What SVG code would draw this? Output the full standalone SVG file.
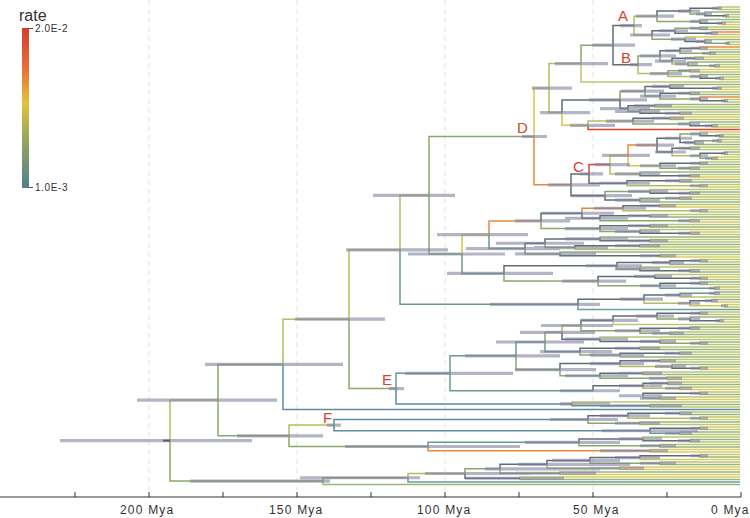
<svg xmlns="http://www.w3.org/2000/svg" width="750" height="518" viewBox="0 0 750 518">
<defs>
<linearGradient id="rg" x1="0" y1="0" x2="0" y2="1">
<stop offset="0" stop-color="#d63a2c"/><stop offset="0.25" stop-color="#e6703a"/><stop offset="0.47" stop-color="#e4c23a"/><stop offset="0.68" stop-color="#9aa85c"/><stop offset="1" stop-color="#52808d"/>
</linearGradient>
<style>
.br{fill:none;stroke-width:1.5;stroke-linecap:butt}
.c0{stroke:#5b8ca0}.c1{stroke:#679a8c}.c2{stroke:#8aa868}.c3{stroke:#b4bd5c}.c4{stroke:#d8c64a}.c5{stroke:#e8883a}.c6{stroke:#d9452f}.c7{stroke:#5f6d70}
.tA{stroke:#bcc672}.tG{stroke:#9ab47e}.tY{stroke:#d9cc64}.tO{stroke:#e98a3c}.tR{stroke:#d9452f}.tT{stroke:#6a9ea0}
.bar{fill:none;stroke:#80829e;stroke-opacity:.6;stroke-width:3.2}
.lbl{font-family:"Liberation Sans",Arial,sans-serif;font-size:15px;fill:#d5442e}
.ax{font-family:"Liberation Sans",Arial,sans-serif;font-size:12px;fill:#333;letter-spacing:1.2px}
.lg{font-family:"Liberation Sans",Arial,sans-serif;fill:#333}
</style>
</defs>
<rect width="750" height="518" fill="#ffffff"/>
<g id="grid" stroke="#e2e2e2" stroke-width="1" stroke-dasharray="5 4">
<path d="M149 0V497M297 0V497M445 0V497M593 0V497"/>
</g>
<g id="tips" class="br">
<path class="tA" d="M718 8.25V7H740M718 8.25V9.5H740M726 15.75V14.5H740M726 15.75V17H740M722 23.25V22H740M700 28.25V27H740M712 33.25V34.5H740M728 43.25V42H740M728 43.25V44.5H740M700 48.25V49.5H740M710 53.25V54.5H740M695 58.25V59.5H740M715 65.75V64.5H740M715 65.75V67H740M690 70.75V72H740M720 78.25V77H740M720 78.25V79.5H740M581 63.6V82H740M718 88.25V87H740M690 93.25V92H740M725 100.75V99.5H740M725 100.75V102H740M655 105.75V107H740M680 113.25V112H740M680 113.25V114.5H740M670 118.25V119.5H740M712 125.75V124.5H740M712 125.75V127H740M720 135.75V134.5H740M718 140.75V139.5H740M718 140.75V142H740M690 148.25V147H740M690 148.25V149.5H740M725 153.25V154.5H740M712 158.25V159.5H740M700 163.25V162H740M690 168.25V167H740M690 168.25V169.5H740M690 175.75V174.5H740M680 180.75V179.5H740M700 185.75V184.5H740M650 191.4V189.5H740M690 193.25V194.5H740M680 198.25V197H740M680 198.25V199.5H740M660 205.75V204.5H740M700 210.75V209.5H740M700 210.75V212H740M650 215.75V214.5H740M690 220.75V219.5H740M650 225.75V224.5H740M640 231.4V229.5H740M690 233.25V234.5H740M650 240.75V239.5H740M650 240.75V242H740M640 245.75V247H740M575 247.6V249.5H740M660 255.75V254.5H740M700 260.75V259.5H740M700 260.75V262H740M640 268.9V267H740M690 270.75V269.5H740M655 276.4V274.5H740M700 278.25V279.5H740M700 283.25V284.5H740M715 288.25V287H740M715 288.25V289.5H740M715 293.25V294.5H740M680 295.1V297H740M725 305.75V307H740M700 313.25V312H740M700 313.25V314.5H740M720 320.75V319.5H740M613 320.3V324.5H740M690 328.25V329.5H740M670 333.25V332H740M600 339.2V337H740M660 341.4V339.5H740M700 343.25V344.5H740M640 348.25V347H740M680 353.25V352H740M680 353.25V354.5H740M660 360.75V359.5H740M660 360.75V362H740M700 368.25V367H740M643 373.25V372H740M667 378.25V377H740M668 383.25V382H740M680 388.25V387H740M700 393.25V392H740M660 398.25V397H740M572 403.9V402H740M650 405.75V407H740M680 413.25V412H740M700 418.25V417H740M640 423.25V424.5H740M700 428.25V429.5H740M680 433.25V434.5H740M643 438.9V437H740M690 440.75V442H740M660 445.75V444.5H740M700 455.75V454.5H740M660 463.25V462H740"/>
<path class="tG" d="M705 13.9V12H740M700 21.4V19.5H740M700 28.25V29.5H740M705 41.4V39.5H740M710 53.25V52H740M688 63.9V62H740M700 76.4V74.5H740M670 86.4V84.5H740M690 93.25V94.5H740M655 105.75V104.5H740M640 111.4V109.5H740M690 123.9V122H740M720 135.75V137H740M695 142.6V144.5H740M725 153.25V152H740M700 163.25V164.5H740M640 173.9V172H740M680 180.75V182H740M690 193.25V192H740M640 200.1V202H740M650 215.75V217H740M650 225.75V227H740M600 238.9V237H740M640 245.75V244.5H740M560 253.9V252H740M670 262.6V264.5H740M690 270.75V272H740M700 283.25V282H740M715 293.25V292H740M712 300.75V299.5H740M690 318.9V317H740M690 328.25V327H740M670 333.25V334.5H740M700 343.25V342H740M640 348.25V349.5H740M620 355.1V357H740M672 366.4V364.5H740M643 373.25V374.5H740M668 383.25V384.5H740M700 393.25V394.5H740M650 405.75V404.5H740M680 413.25V414.5H740M640 423.25V422H740M680 433.25V432H740M690 440.75V439.5H740M660 445.75V447H740M700 455.75V457H740M660 463.25V464.5H740M560 473.25V472H740M520 478.25V479.5H740M323 481.1V484.5H740"/>
<path class="tY" d="M722 23.25V24.5H740M685 39.2V37H740M695 58.25V57H740M690 70.75V69.5H740M718 88.25V89.5H740M670 118.25V117H740M700 133.9V132H740M712 158.25V157H740M690 175.75V177H740M700 185.75V187H740M660 205.75V207H740M690 220.75V222H740M690 233.25V232H740M660 255.75V257H740M700 278.25V277H740M712 300.75V302H740M725 305.75V304.5H740M720 320.75V322H740M700 368.25V369.5H740M667 378.25V379.5H740M680 388.25V389.5H740M660 398.25V399.5H740M700 418.25V419.5H740M700 428.25V427H740M650 450.75V449.5H740M650 450.75V452H740M640 457.6V459.5H740M620 468.25V467H740M620 468.25V469.5H740M560 473.25V474.5H740M520 478.25V477H740"/>
<path class="tO" d="M712 33.25V32H740M700 48.25V47H740M700 98.9V97H740"/>
<path class="tR" d="M588 125.3V129.5H740"/>
<path class="tT" d="M578 304.3V309.5H740M408 477.75V482H740"/>
</g>
<g id="connectors" class="br">
<path class="c2" d="M657 16.2V21.4H700M690 11.1V13.9H705M652 35V39.2H685M675 30.75V28.25H700M705 41.4V43.25H728M638 64.7V55.9H660M660 55.9V61.1H672M680 50.75V53.25H710M688 63.9V65.75H715M668 73.6V70.75H690M581 63.6V45.2H613M620 99.9V91.2H645M645 91.2V96.1H660M660 96.1V98.9H700M628 108.6V111.4H640M633 121.1V123.9H690M680 138.25V133.9H700M695 142.6V140.75H718M700 155.75V158.25H712M660 165.75V168.25H690M605 195.7V191.4H650M640 200.1V198.25H680M429 195.3V136.5H534M429 195.3V254H462M541 220.9V228.6H600M600 218.25V220.75H690M600 228.6V231.4H640M525 248.6V253.9H560M545 243.25V247.6H575M504 273.4V281.1H598M617 265.75V268.9H640M598 281.1V285.75H660M349 319.2V388.6H396M218 400.1V364.4H283M218 400.1V435.8H289M170 440.6V481.1H323M516 355.8V369.7H560M545 342V332.3H562M581 325.5V330.75H640M657 316.1V318.9H690M640 330.75V333.25H670M660 341.4V343.25H700M580 351.7V355.1H620M560 369.7V375.75H600M600 375.75V378.25H667M643 395.75V398.25H660M289 435.8V446.5H428M588 419.5V423.25H640M579 442.3V445.75H660M323 481.1V477.75H408M465 473.5V468.8H500M500 468.8V473.25H560M590 460.4V463.25H660"/>
<path class="c3" d="M634 25.6V16.2H657M634 25.6V35H652M638 64.7V73.6H668M672 61.1V63.9H688M668 73.6V76.4H700M549 88.1V63.6H581M549 88.1V112.6H562M588 125.3V121.1H633M610 164.6V173.9H640M672 152V155.75H700M627 183.25V185.75H700M400 249.8V195.3H429M623 208.25V210.75H700M644 299.2V303.25H690M349 319.2V249.8H400M283 364.4V319.2H349M170 440.6V400.1H218M562 332.3V325.5H581M620 363.6V366.4H672M643 385.75V388.25H680M289 435.8V425.1H334M628 415.75V418.25H700M408 477.75V473.5H465M547 464.3V468.25H620"/>
<path class="c1" d="M400 249.8V304.3H578M462 254V273.4H504M489 234.7V248.6H525M660 285.75V288.25H715M680 295.1V293.25H715M396 388.6V373.3H450M450 373.3V355.8H516M450 373.3V390.75H593M516 355.8V342H545M545 342V351.7H580M572 403.9V405.75H650M650 430.75V433.25H680M428 446.5V442.3H579"/>
<path class="c0" d="M396 388.6V403.9H572M334 425.1V419.5H588M334 425.1V430.75H650M283 364.4V409.5H740"/>
<path class="c4" d="M534 136.5V88.1H549M562 112.6V125.3H588M610 164.6V155.4H628M628 155.4V165.75H660M462 254V234.7H489M690 303.25V305.75H725"/>
<path class="c5" d="M534 136.5V184.8H571M628 155.4V145.1H657M489 234.7V220.9H541M582 213.25V208.25H623M428 446.5V450.75H650"/>
<path class="c6" d="M589 173.9V164.6H610"/>
<path class="c7" d="M657 16.2V11.1H690M690 11.1V8.25H718M705 13.9V15.75H726M700 21.4V23.25H722M652 35V30.75H675M675 30.75V33.25H712M685 39.2V41.4H705M613 45.2V25.6H634M613 45.2V64.7H638M660 55.9V50.75H680M680 50.75V48.25H700M672 61.1V58.25H695M700 76.4V78.25H720M562 112.6V99.9H620M620 99.9V108.6H628M645 91.2V86.4H670M670 86.4V88.25H718M660 96.1V93.25H690M700 98.9V100.75H725M628 108.6V105.75H655M640 111.4V113.25H680M633 121.1V118.25H670M690 123.9V125.75H712M571 184.8V173.9H589M571 184.8V195.7H605M589 173.9V183.25H627M657 145.1V138.25H680M657 145.1V152H672M680 138.25V142.6H695M700 133.9V135.75H720M672 152V148.25H690M700 155.75V153.25H725M660 165.75V163.25H700M640 173.9V175.75H690M627 183.25V180.75H680M605 195.7V200.1H640M650 191.4V193.25H690M541 220.9V213.25H582M623 208.25V205.75H660M582 213.25V218.25H600M600 218.25V215.75H650M600 228.6V225.75H650M640 231.4V233.25H690M525 248.6V243.25H545M545 243.25V238.9H600M600 238.9V240.75H650M575 247.6V245.75H640M560 253.9V255.75H660M504 273.4V265.75H617M617 265.75V262.6H670M670 262.6V260.75H700M640 268.9V270.75H690M598 281.1V276.4H655M655 276.4V278.25H700M660 285.75V283.25H700M578 304.3V299.2H644M644 299.2V295.1H680M690 303.25V300.75H712M562 332.3V339.2H600M581 325.5V320.3H613M613 320.3V316.1H657M657 316.1V313.25H700M690 318.9V320.75H720M640 330.75V328.25H690M600 339.2V341.4H660M580 351.7V348.25H640M620 355.1V353.25H680M560 369.7V363.6H620M620 363.6V360.75H660M672 366.4V368.25H700M600 375.75V373.25H643M593 390.75V385.75H643M643 385.75V383.25H668M643 395.75V393.25H700M588 419.5V415.75H628M628 415.75V413.25H680M650 430.75V428.25H700M579 442.3V438.9H643M643 438.9V440.75H690M465 473.5V478.25H520M500 468.8V464.3H547M547 464.3V460.4H590M590 460.4V457.6H640M640 457.6V455.75H700"/>
<path d="M163 440.6H170" stroke="#222" stroke-width="2"/>
</g>
<g id="bars" class="bar">
<path d="M712 8.25H722M722 15.75H729M696 13.9H712M678 11.1H700M717 23.25H726M690 21.4H708M636 16.2H674M690 28.25H708M705 33.25H718M659 30.75H688M725 43.25H730M696 41.4H712M671 39.2H696M630 35H670M620 25.6H642M690 48.25H708M702 53.25H716M665 50.75H692M684 58.25H704M709 65.75H720M675 63.9H698M655 61.1H686M640 55.9H676M678 70.75H700M715 78.25H724M690 76.4H708M650 73.6H682M630 64.7H652M592 45.2H635M555 63.6H608M712 88.25H722M652 86.4H684M678 93.25H700M721 100.75H728M690 98.9H708M640 96.1H676M621 91.2H664M634 105.75H672M665 113.25H692M615 111.4H660M600 108.6H650M589 99.9H647M652 118.25H684M705 125.75H718M678 123.9H700M606 121.1H654M570 125.3H615M540 112.6H590M532 88.1H572"/>
<path d="M715 135.75H724M690 133.9H708M712 140.75H722M684 142.6H704M665 138.25H692M678 148.25H700M721 153.25H728M705 158.25H718M690 155.75H708M655 152H686M636 145.1H674M690 163.25H708M678 168.25H700M640 165.75H676M602 155.4H650M678 175.75H700M615 173.9H660M595 164.6H630M665 180.75H692M690 185.75H708M599 183.25H650M580 173.9H603M678 193.25H700M628 191.4H668M665 198.25H692M615 200.1H660M571 195.7H632M548 184.8H600M522 136.5H547"/>
<path d="M640 205.75H676M690 210.75H708M594 208.25H646M628 215.75H668M678 220.75H700M565 218.25H628M542 213.25H614M628 225.75H668M678 233.25H700M615 231.4H660M565 228.6H628M515 220.9H570M628 240.75H668M565 238.9H628M615 245.75H660M534 247.6H608M496 243.25H584M640 255.75H676M515 253.9H596M466 248.6H560M437 234.7H528M690 260.75H708M652 262.6H684M678 270.75H700M615 268.9H660M586 265.75H642M690 278.25H708M634 276.4H672M690 283.25H708M709 288.25H720M640 285.75H676M562 281.1H626M447 273.4H553M408 254H505M373 195.3H455M709 293.25H720M665 295.1H692M705 300.75H718M721 305.75H728M678 303.25H700M620 299.2H663M490 304.3H600M346 249.8H448"/>
<path d="M690 313.25H708M715 320.75H724M678 318.9H700M636 316.1H674M581 320.3H638M678 328.25H700M652 333.25H684M615 330.75H660M541 325.5H613M690 343.25H708M640 341.4H676M565 339.2H628M520 332.3H595M615 348.25H660M665 353.25H692M590 355.1H644M540 351.7H612M496 342H584M640 360.75H676M690 368.25H708M655 366.4H686M590 363.6H644M619 373.25H662M649 378.25H682M565 375.75H628M515 369.7H596M465 355.8H560M650 383.25H682M665 388.25H692M619 385.75H662M690 393.25H708M640 398.25H676M619 395.75H662M560 390.75H620M405 373.3H513M600 405.75H682M560 403.9H610M389 388.6H404M295 319.2H385M205 364.4H343"/>
<path d="M665 413.25H692M690 418.25H708M600 415.75H650M615 423.25H660M550 419.5H618M690 428.25H708M665 433.25H692M602 430.75H698M327 425.1H341M678 440.75H700M619 438.9H662M640 445.75H676M525 442.3H620M600 450.75H668M345 446.5H520M237 435.8H323M137 400.1H277M690 455.75H708M615 457.6H660M640 463.25H676M552 460.4H620M590 468.25H644M518 464.3H630M515 473.25H596M485 468.8H600M465 478.25H564M425 473.5H530M300 477.75H420M190 481.1H330M60 440.6H252"/>
</g>
<g id="node-A"><text class="lbl" x="618" y="21">A</text></g>
<g id="node-B"><text class="lbl" x="621" y="62.5">B</text></g>
<g id="node-C"><text class="lbl" x="573" y="172">C</text></g>
<g id="node-D"><text class="lbl" x="517" y="133">D</text></g>
<g id="node-E"><text class="lbl" x="382" y="385">E</text></g>
<g id="node-F"><text class="lbl" x="323" y="423">F</text></g>
<g id="legend">
<text class="lg" x="19" y="21" font-size="16">rate</text>
<rect x="22" y="28" width="7" height="160" fill="url(#rg)"/>
<path d="M29 28.5H33M29 187.5H33" stroke="#555" stroke-width="1"/>
<text class="lg" x="35" y="32" font-size="10" letter-spacing="0.6">2.0E-2</text>
<text class="lg" x="35" y="191" font-size="10" letter-spacing="0.6">1.0E-3</text>
</g>
<g id="axis">
<path d="M0 497H741" stroke="#333" stroke-width="1"/>
<path d="M741 497V492M667 497V492M593 497V492M519 497V492M445 497V492M371 497V492M297 497V492M223 497V492M149 497V492M75 497V492" stroke="#333" stroke-width="1"/>
<text class="ax" x="120" y="514">200 Mya</text>
<text class="ax" x="269" y="514">150 Mya</text>
<text class="ax" x="417" y="514">100 Mya</text>
<text class="ax" x="573" y="514">50 Mya</text>
<text class="ax" x="711" y="514">0 Mya</text>
</g>
</svg>
